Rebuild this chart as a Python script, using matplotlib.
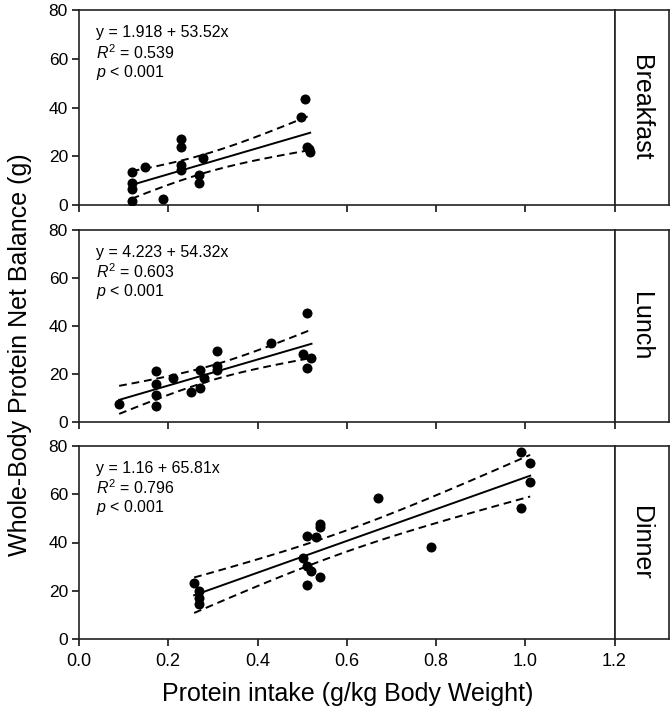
import numpy as np
import matplotlib
matplotlib.use("Agg")
import matplotlib.pyplot as plt

plt.rcParams['font.family'] = ['Liberation Sans', 'DejaVu Sans']
plt.rcParams['mathtext.fontset'] = 'custom'
plt.rcParams['mathtext.rm'] = 'Liberation Sans'
plt.rcParams['mathtext.it'] = 'Liberation Sans:italic'

meals = ["Breakfast", "Lunch", "Dinner"]

breakfast_x = [0.118, 0.118, 0.118, 0.118, 0.148, 0.188, 0.228, 0.228, 0.228, 0.228,
               0.268, 0.268, 0.277, 0.497, 0.507, 0.510, 0.518, 0.515]
breakfast_y = [13.4, 9.1, 6.4, 1.6, 15.7, 2.3, 26.9, 23.9, 16.4, 14.4,
               12.3, 8.9, 19.2, 36.2, 43.6, 23.9, 21.9, 23.0]

lunch_x = [0.090, 0.173, 0.173, 0.173, 0.173, 0.211, 0.250, 0.271, 0.271, 0.280,
           0.310, 0.310, 0.310, 0.430, 0.501, 0.510, 0.510, 0.521]
lunch_y = [7.4, 21.3, 15.7, 11.1, 6.6, 18.1, 12.5, 21.6, 14.2, 18.1,
           29.6, 23.4, 21.6, 32.7, 28.1, 45.5, 22.3, 26.7]

dinner_x = [0.258, 0.270, 0.270, 0.270, 0.501, 0.510, 0.510, 0.510, 0.520, 0.531,
            0.540, 0.540, 0.540, 0.670, 0.789, 0.990, 0.990, 1.011, 1.011]
dinner_y = [23.2, 19.7, 17.2, 14.4, 33.5, 42.6, 30.1, 22.4, 28.3, 42.2,
            47.8, 46.4, 25.8, 58.6, 38.3, 77.6, 54.3, 72.8, 65.1]

intercepts = [1.918, 4.223, 1.16]
slopes = [53.52, 54.32, 65.81]
intercept_labels = ["1.918", "4.223", "1.16"]
slope_labels = ["53.52", "54.32", "65.81"]
r2_labels = ["0.539", "0.603", "0.796"]
p_labels = ["< 0.001", "< 0.001", "< 0.001"]

x_ticks = [0.0, 0.2, 0.4, 0.6, 0.8, 1.0, 1.2]
y_ticks = [0, 20, 40, 60, 80]

xs_all = [breakfast_x, lunch_x, dinner_x]
ys_all = [breakfast_y, lunch_y, dinner_y]

W, H = 671, 714
fig = plt.figure(figsize=(W / 100, H / 100), dpi=100)

# panel pixel boxes (top, bottom)
boxes = [(10, 205), (230, 421.7), (446, 639)]
left_px, right_px, strip_right = 79, 614.5, 668.5

t_crit = 2.11

for i, (top, bot) in enumerate(boxes):
    ax = fig.add_axes([left_px / W, 1 - bot / H, (right_px - left_px) / W, (bot - top) / H])
    sax = fig.add_axes([right_px / W, 1 - bot / H, (strip_right - right_px) / W, (bot - top) / H])

    x = np.array(xs_all[i])
    y = np.array(ys_all[i])
    b0, b1 = intercepts[i], slopes[i]

    ax.scatter(x, y, s=52, color='black', zorder=3, linewidths=0)
    xl = np.linspace(x.min(), x.max(), 100)
    yl = b0 + b1 * xl
    ax.plot(xl, yl, color='black', lw=1.4)
    n = len(x)
    resid = y - (b0 + b1 * x)
    s = np.sqrt(np.sum(resid ** 2) / (n - 2))
    sxx = np.sum((x - x.mean()) ** 2)
    ci = t_crit * s * np.sqrt(1 / n + (xl - x.mean()) ** 2 / sxx)
    ax.plot(xl, yl + ci, color='black', lw=1.4, ls=(0, (4, 2.5)))
    ax.plot(xl, yl - ci, color='black', lw=1.4, ls=(0, (4, 2.5)))

    ax.set_xlim(0, 1.2)
    ax.set_ylim(0, 80)
    ax.set_xticks(x_ticks)
    ax.set_yticks(y_ticks)
    ax.tick_params(direction='out', length=5, width=1.1, colors='black')
    ax.tick_params(axis='y', labelsize=12.5, pad=3)
    ax.tick_params(axis='x', labelsize=13, pad=5)
    if i < 2:
        ax.tick_params(axis='x', labelbottom=False)
    else:
        ax.set_xticklabels([f"{v:.1f}" for v in x_ticks])
    for sp in ax.spines.values():
        sp.set_linewidth(1.2)
        sp.set_color('#222222')

    fs = 11.5
    ax.text(0.032, 0.885, f"y = {intercept_labels[i]} + {slope_labels[i]}x",
            transform=ax.transAxes, fontsize=fs, va='center', ha='left')
    ax.text(0.032, 0.783, r"$\mathit{R}^2$" + f" = {r2_labels[i]}",
            transform=ax.transAxes, fontsize=fs, va='center', ha='left')
    ax.text(0.032, 0.680, r"$\mathit{p}$" + f" {p_labels[i]}",
            transform=ax.transAxes, fontsize=fs, va='center', ha='left')

    sax.set_xticks([])
    sax.set_yticks([])
    for sp in sax.spines.values():
        sp.set_linewidth(1.2)
        sp.set_color('#222222')
    sax.text(0.5, 0.5, meals[i], rotation=270, ha='center', va='center',
             fontsize=18, transform=sax.transAxes)

fig.text(20 / W, 1 - 355 / H, "Whole-Body Protein Net Balance (g)", rotation=90,
         ha='center', va='center', fontsize=18)
fig.text(348 / W, 1 - 694 / H, "Protein intake (g/kg Body Weight)",
         ha='center', va='center', fontsize=18)

fig.savefig("out.png", dpi=100)
